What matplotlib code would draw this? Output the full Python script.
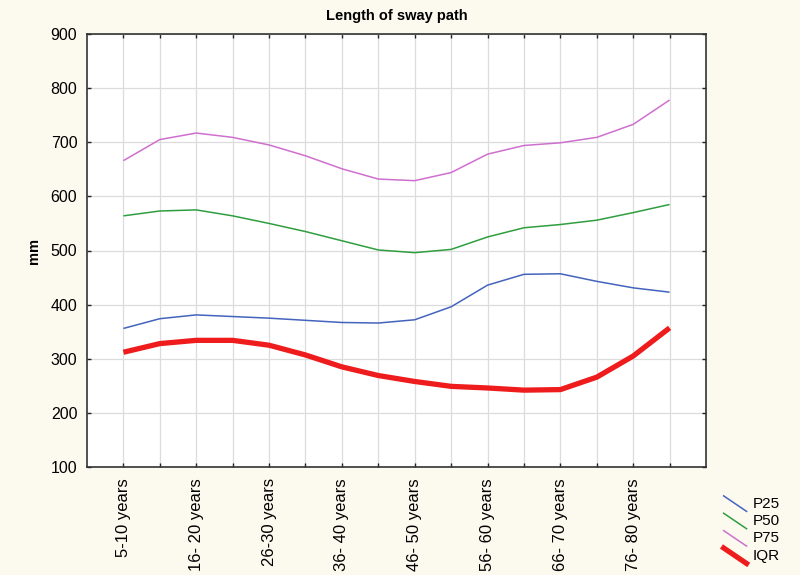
import matplotlib
matplotlib.use("Agg")
import matplotlib.pyplot as plt
from matplotlib.lines import Line2D
from matplotlib.legend_handler import HandlerBase

plt.rcParams['font.family'] = ['Liberation Sans', 'DejaVu Sans']

# ---- data ----
age_groups = ["5-10 years", "11-15 years", "16- 20 years", "21-25 years",
              "26-30 years", "31-35 years", "36- 40 years", "41-45 years",
              "46- 50 years", "51-55 years", "56- 60 years", "61-65 years",
              "66- 70 years", "71-75 years", "76- 80 years", "81+ years"]
p25 = [356, 374, 381, 378, 375, 371, 367, 366, 372, 396, 436, 456, 457, 443, 431, 423]
p50 = [564, 573, 575, 564, 550, 535, 518, 501, 496, 502, 525, 542, 548, 556, 570, 585]
p75 = [666, 705, 717, 709, 695, 675, 651, 632, 629, 644, 678, 694, 699, 709, 733, 778]
iqr = [312, 328, 334, 334, 325, 307, 285, 269, 258, 249, 246, 242, 243, 266, 305, 357]
series_names = ["P25", "P50", "P75", "IQR"]
y_ticks = [100, 200, 300, 400, 500, 600, 700, 800, 900]

colors = ["#4463bd", "#2f9e3f", "#cf6fcf", "#ee1c1c"]
widths = [1.1, 1.1, 1.1, 3.8]

fig = plt.figure(figsize=(8, 5.75), dpi=100, facecolor="#fcf9ef")
ax = fig.add_axes([87/800, 1-467/575, (706-87)/800, (467-34)/575])
ax.set_facecolor("white")

x = list(range(len(age_groups)))
handles = []
for vals, name, c, lw in zip([p25, p50, p75, iqr], series_names, colors, widths):
    h, = ax.plot(x, vals, color=c, lw=lw, label=name, solid_capstyle="butt",
                 solid_joinstyle="round", zorder=3)
    handles.append(h)

ax.set_xlim(-1, 16)
ax.set_ylim(100, 900)
ax.set_yticks(y_ticks)
ax.set_xticks(x)
ax.set_xticklabels([lab if i % 2 == 0 else "" for i, lab in enumerate(age_groups)],
                   rotation=90, fontsize=12)
ax.tick_params(axis="y", labelsize=11.5, pad=7)
ax.tick_params(axis="x", pad=8)
ax.tick_params(direction="in", length=3, width=1, top=True, right=True, color="#222222")
ax.grid(True, color="#dcdcdc", lw=0.9, zorder=0)
for s in ax.spines.values():
    s.set_color("#333333")
    s.set_linewidth(1.2)

ax.set_title("Length of sway path", fontsize=10.5, fontweight="bold", pad=10)
ax.set_ylabel("mm", fontsize=10.5, fontweight="bold", labelpad=7)


class DiagHandler(HandlerBase):
    def create_artists(self, legend, orig_handle, xdescent, ydescent, width, height,
                       fontsize, trans):
        l = Line2D([-xdescent, -xdescent + width],
                   [-ydescent + height * 1.1, -ydescent - height * 0.35],
                   color=orig_handle.get_color(), lw=orig_handle.get_linewidth(),
                   transform=trans)
        return [l]


fig.legend(handles=handles, labels=series_names, loc="upper left",
           bbox_to_anchor=(716/800, 1-489/575), frameon=False, fontsize=11,
           handlelength=1.5, handletextpad=0.4, labelspacing=0.22, borderpad=0,
           handler_map={Line2D: DiagHandler()})

fig.savefig("out.png", dpi=100, facecolor=fig.get_facecolor())
